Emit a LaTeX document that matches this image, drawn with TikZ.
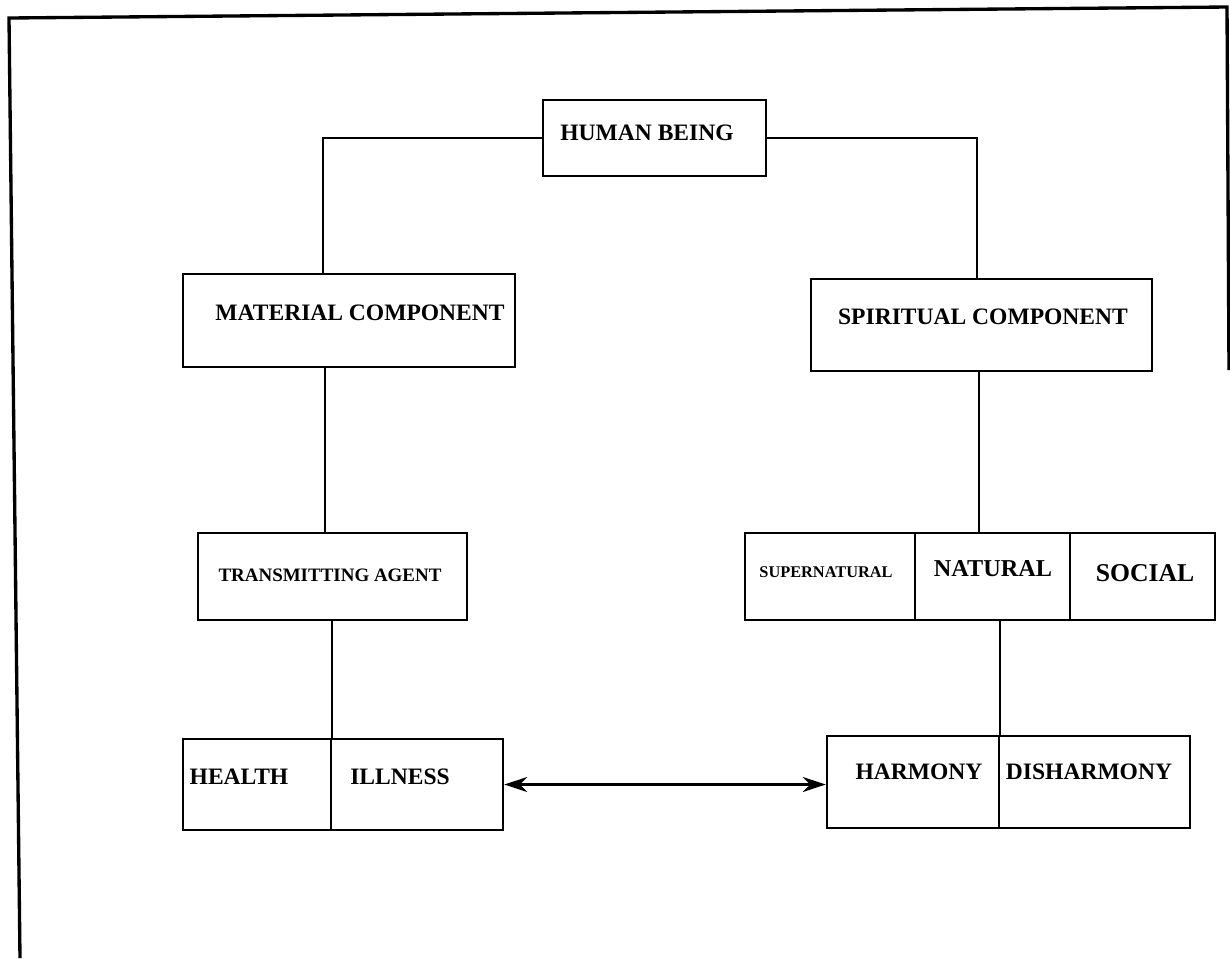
\documentclass[tikz,border=0pt]{standalone}
\usepackage{fontspec}
\setmainfont{Liberation Serif}
\usetikzlibrary{fit,arrows.meta}

\begin{document}
\begin{tikzpicture}[x=0.02cm, y=-0.02cm,
	box/.style = {draw, line width=1.4pt, inner sep=0pt},
	lbl/.style = {inner sep=0pt, font=\fontsize{13.4}{16}\selectfont\bfseries},
	link/.style = {line width=1.1pt}]

	\useasboundingbox (0,0) rectangle (1230,958);
	% outer frame (scanned page, slightly tilted)
	\draw [line width=1.9pt] (20,958) -- (9,18) -- (1227,7) -- (1229,370);

	% boxes
	\node [box, fit={(543,100) (766,176)}] (human) {};
	\node [box, fit={(183,274) (515,367)}] (material) {};
	\node [box, fit={(811,279) (1152,371)}] (spiritual) {};
	\node [box, fit={(198,533) (467,620)}] (agent) {};
	\node [box, fit={(745,533) (915,620)}] (supnat) {};
	\node [box, fit={(915,533) (1070,620)}] (natural) {};
	\node [box, fit={(1070,533) (1215,620)}] (social) {};
	\node [box, fit={(183,739) (331,830)}] (health) {};
	\node [box, fit={(331,739) (503,830)}] (illness) {};
	\node [box, fit={(827,736) (999,828)}] (harmony) {};
	\node [box, fit={(999,736) (1190,828)}] (disharm) {};

	% texts
	\node [lbl] (t-human) at (647,133) {HUMAN BEING};
	\node [lbl] (t-material) at (360,313) {MATERIAL COMPONENT};
	\node [lbl] (t-spiritual) at (983,317) {SPIRITUAL COMPONENT};
	\node [lbl, font=\fontsize{10.8}{13}\selectfont\bfseries] (t-agent) at (330,575) {TRANSMITTING AGENT};
	\node [lbl, font=\fontsize{9.3}{11}\selectfont\bfseries] (t-supnat) at (826,572) {SUPERNATURAL};
	\node [lbl, font=\fontsize{13.8}{16}\selectfont\bfseries] (t-natural) at (993,569) {NATURAL};
	\node [lbl, font=\fontsize{14.6}{17}\selectfont\bfseries] (t-social) at (1145,573) {SOCIAL};
	\node [lbl] (t-health) at (239,777) {HEALTH};
	\node [lbl] (t-illness) at (400,777) {ILLNESS};
	\node [lbl] (t-harmony) at (919,772) {HARMONY};
	\node [lbl] (t-disharm) at (1089,772) {DISHARMONY};

	% connectors
	\draw [link] (human.west) -| (323,0 |- material.north);
	\draw [link] (human.east) -| (977,0 |- spiritual.north);
	\draw [link] (325,0 |- material.south) -- (325,0 |- agent.north);
	\draw [link] (health.north east |- agent.south) -- (health.north east);
	\draw [link] (979,0 |- spiritual.south) -- (979,0 |- natural.north);
	\draw [link] (harmony.north east |- natural.south) -- (harmony.north east);
	\draw [link, line width=1.5pt, {Stealth[length=0.46cm, width=0.3cm]}-{Stealth[length=0.46cm, width=0.3cm]}]
		(illness.east) -- (illness.east -| harmony.west);
\end{tikzpicture}
\end{document}
